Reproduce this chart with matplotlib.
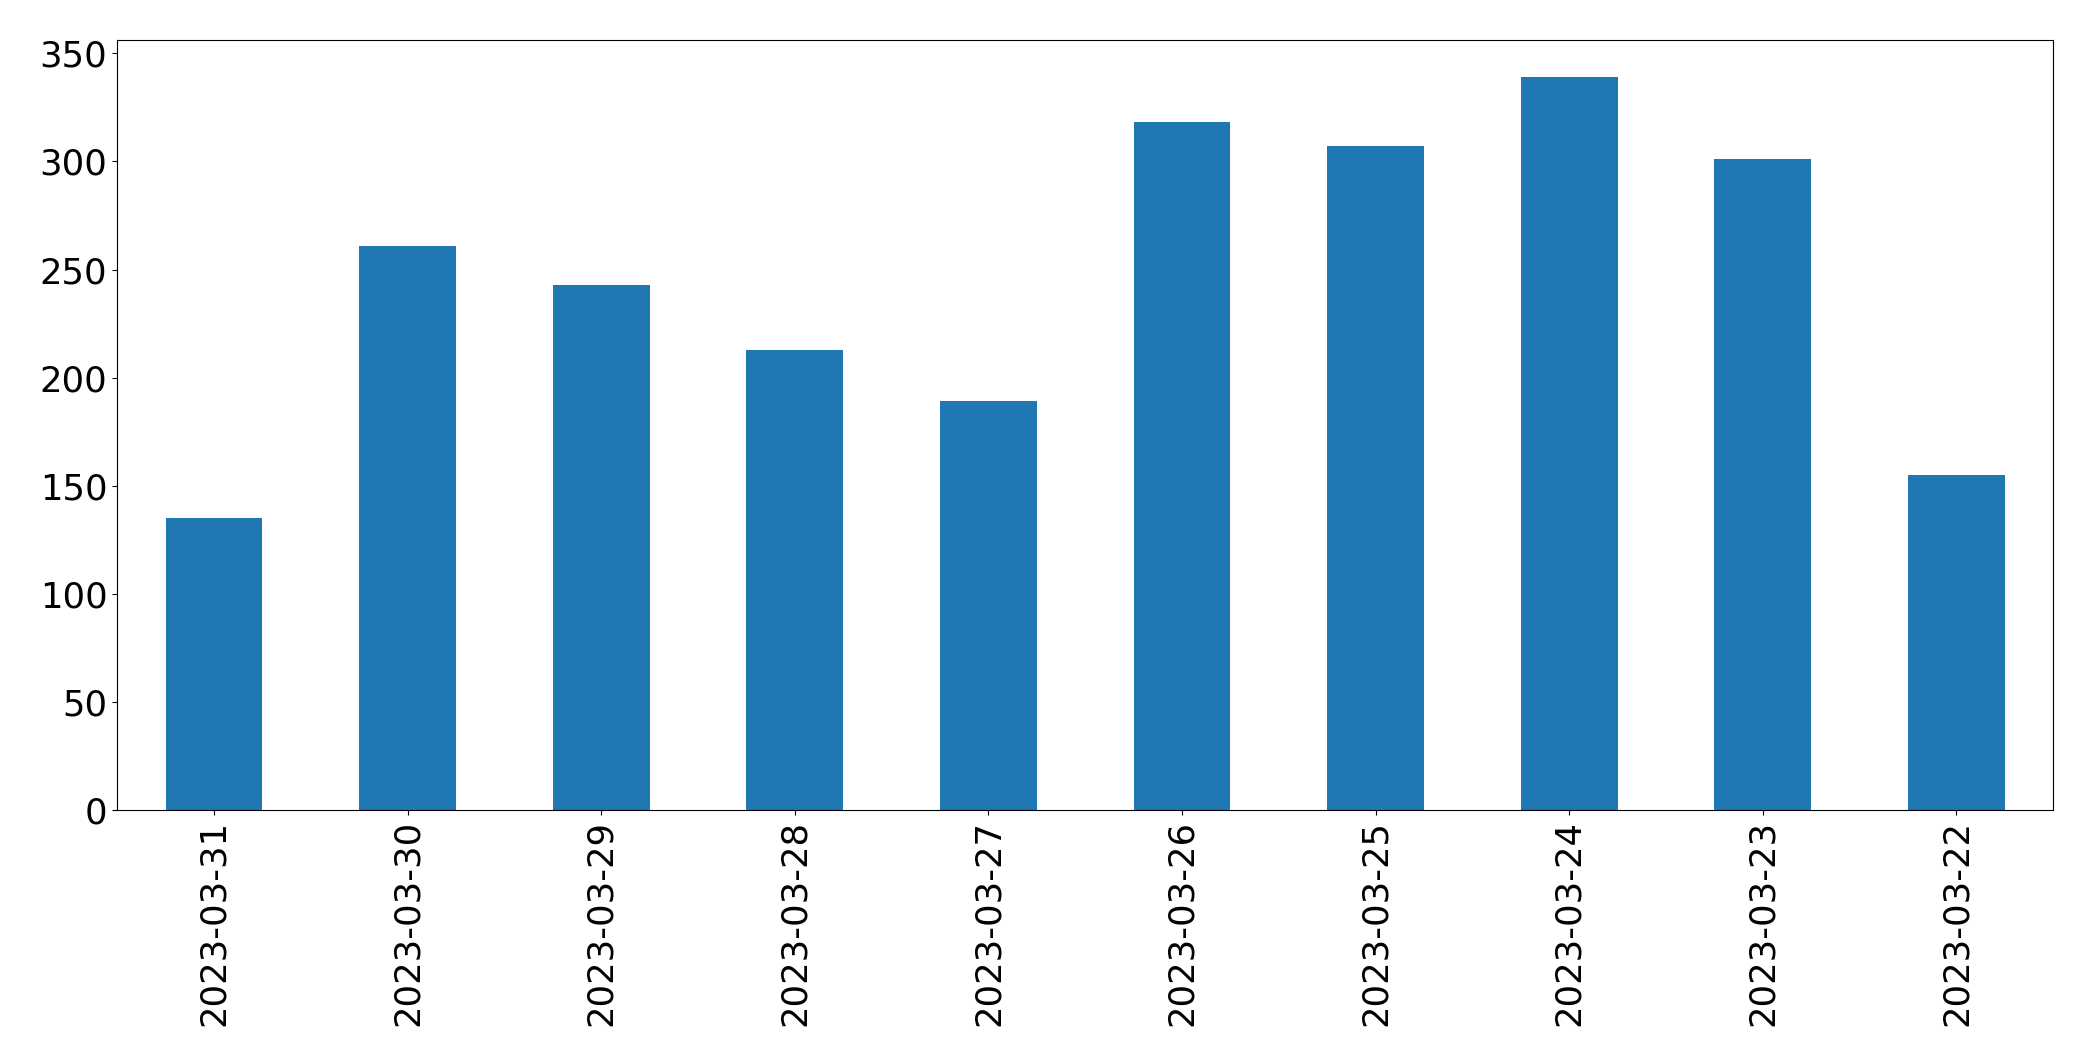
import matplotlib
matplotlib.use("Agg")
import matplotlib.pyplot as plt

dates = ["2023-03-31", "2023-03-30", "2023-03-29", "2023-03-28", "2023-03-27",
         "2023-03-26", "2023-03-25", "2023-03-24", "2023-03-23", "2023-03-22"]
values = [135, 261, 243, 213, 189, 318, 307, 339, 301, 155]

fig = plt.figure(figsize=(20.93, 10.62), dpi=100)
ax = fig.add_axes([0.056, 0.237, 0.925, 0.725])
x = list(range(len(dates)))
ax.bar(x, values, width=0.5, color="#1f77b4")
ax.set_xlim(-0.5, len(dates) - 0.5)
ax.set_xticks(x)
ax.set_xticklabels(dates, rotation=90, fontsize=25.5)
ax.tick_params(axis="y", labelsize=25.5)
ax.set_yticks([0, 50, 100, 150, 200, 250, 300, 350])
fig.savefig("out.png", dpi=100)
